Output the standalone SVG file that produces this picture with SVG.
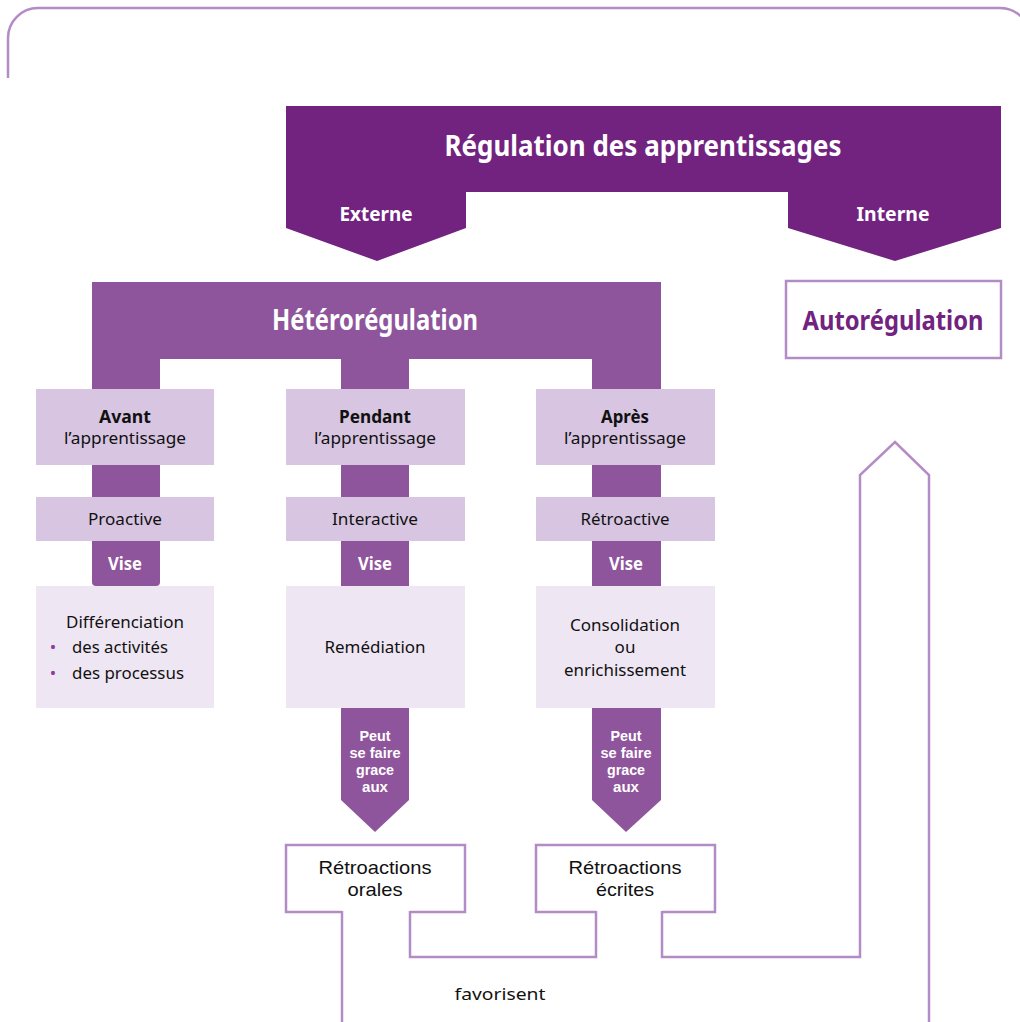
<svg xmlns="http://www.w3.org/2000/svg" width="1020" height="1022" viewBox="0 0 1020 1022">
<style>
text{font-family:"Noto Sans","DejaVu Sans",sans-serif;text-anchor:middle}
.dark{fill:#71237f}
.mid{fill:#8f559c}
.lt{fill:#d7c5e2}
.xlt{fill:#efe6f3}
.ol{fill:none;stroke:#b48cc5;stroke-width:2.5}
.olw{fill:#fff;stroke:#b48cc5;stroke-width:2.5}
.wb{fill:#fff;font-weight:700}
.b{fill:#111;font-weight:700;font-size:17px}
.r{fill:#111;font-size:17px}
.r19{fill:#111;font-size:19px;font-family:"Liberation Sans","Noto Sans",sans-serif}
.pk{fill:#fff;font-weight:700;font-size:15px;font-family:"Liberation Sans","Noto Sans",sans-serif}
</style>
<g id="frame"><path class="ol" d="M8,78 V38 A30,30 0 0 1 38,8 H1000 A30,30 0 0 1 1030,38" stroke-width="3"/></g>

<g id="regulation">
<path class="dark" d="M286,106 H1001 V228 L895,261 L788,228 V192 H466 V228 L377,261 L286,228 Z"/>
<text class="wb" x="643" y="156" font-size="28" textLength="397" lengthAdjust="spacingAndGlyphs">Régulation des apprentissages</text>
<text class="wb" x="376" y="221" font-size="19" textLength="73" lengthAdjust="spacingAndGlyphs">Externe</text>
<text class="wb" x="893" y="221" font-size="19" textLength="73" lengthAdjust="spacingAndGlyphs">Interne</text>
</g>

<g id="autoregulation">
<rect class="olw" x="786" y="281" width="215" height="77"/>
<text x="893" y="330" font-size="26" font-weight="700" fill="#71237f" textLength="181" lengthAdjust="spacingAndGlyphs">Autorégulation</text>
</g>

<g id="heteroregulation">
<rect class="mid" x="92" y="282" width="569" height="77"/>
<path class="mid" d="M92,358 H160 V582 Q160,586 156,586 H96 Q92,586 92,582 Z"/>
<path class="mid" d="M341,358 H409 V800 L375,832 L341,800 Z"/>
<path class="mid" d="M592,358 H661 V800 L626,832 L592,800 Z"/>
<text class="wb" x="375" y="330" font-size="28" textLength="206" lengthAdjust="spacingAndGlyphs">Hétérorégulation</text>
</g>

<g id="avant">
<rect class="lt" x="36" y="389" width="178" height="76"/>
<text class="b" x="125" y="423" textLength="52" lengthAdjust="spacingAndGlyphs">Avant</text>
<text class="r" x="125" y="444" textLength="122" lengthAdjust="spacingAndGlyphs">l’apprentissage</text>
</g>
<g id="pendant">
<rect class="lt" x="286" y="389" width="179" height="76"/>
<text class="b" x="375" y="423" textLength="72" lengthAdjust="spacingAndGlyphs">Pendant</text>
<text class="r" x="375" y="444" textLength="122" lengthAdjust="spacingAndGlyphs">l’apprentissage</text>
</g>
<g id="apres">
<rect class="lt" x="536" y="389" width="179" height="76"/>
<text class="b" x="625" y="423" textLength="48" lengthAdjust="spacingAndGlyphs">Après</text>
<text class="r" x="625" y="444" textLength="122" lengthAdjust="spacingAndGlyphs">l’apprentissage</text>
</g>

<g id="proactive">
<rect class="lt" x="36" y="497" width="178" height="44"/>
<text class="r" x="125" y="525" textLength="74" lengthAdjust="spacingAndGlyphs">Proactive</text>
</g>
<g id="interactive">
<rect class="lt" x="286" y="497" width="179" height="44"/>
<text class="r" x="375" y="525" textLength="86" lengthAdjust="spacingAndGlyphs">Interactive</text>
</g>
<g id="retroactive">
<rect class="lt" x="536" y="497" width="179" height="44"/>
<text class="r" x="625" y="525" textLength="89" lengthAdjust="spacingAndGlyphs">Rétroactive</text>
</g>

<g id="vise-labels">
<text class="wb" x="125" y="570" font-size="17" textLength="34" lengthAdjust="spacingAndGlyphs">Vise</text>
<text class="wb" x="375" y="570" font-size="17" textLength="34" lengthAdjust="spacingAndGlyphs">Vise</text>
<text class="wb" x="626" y="570" font-size="17" textLength="34" lengthAdjust="spacingAndGlyphs">Vise</text>
</g>

<g id="differenciation">
<rect class="xlt" x="36" y="586" width="178" height="122"/>
<text class="r" x="125" y="628" textLength="118" lengthAdjust="spacingAndGlyphs">Différenciation</text>
<text x="53" y="653" font-size="17" fill="#8f3a9c">•</text>
<text class="r" x="72" y="653" style="text-anchor:start" textLength="96" lengthAdjust="spacingAndGlyphs">des activités</text>
<text x="53" y="679" font-size="17" fill="#8f3a9c">•</text>
<text class="r" x="72" y="679" style="text-anchor:start" textLength="112" lengthAdjust="spacingAndGlyphs">des processus</text>
</g>
<g id="remediation">
<rect class="xlt" x="286" y="586" width="179" height="122"/>
<text class="r" x="375" y="653" textLength="101" lengthAdjust="spacingAndGlyphs">Remédiation</text>
</g>
<g id="consolidation">
<rect class="xlt" x="536" y="586" width="179" height="122"/>
<text class="r" x="625" y="631" textLength="110" lengthAdjust="spacingAndGlyphs">Consolidation</text>
<text class="r" x="625" y="653">ou</text>
<text class="r" x="625" y="676" textLength="122" lengthAdjust="spacingAndGlyphs">enrichissement</text>
</g>

<g id="peut-labels">
<text class="pk" x="375" y="741" textLength="31" lengthAdjust="spacingAndGlyphs">Peut</text>
<text class="pk" x="375" y="758" textLength="51" lengthAdjust="spacingAndGlyphs">se faire</text>
<text class="pk" x="375" y="775" textLength="38" lengthAdjust="spacingAndGlyphs">grace</text>
<text class="pk" x="375" y="792" textLength="26" lengthAdjust="spacingAndGlyphs">aux</text>
<text class="pk" x="626" y="741" textLength="31" lengthAdjust="spacingAndGlyphs">Peut</text>
<text class="pk" x="626" y="758" textLength="51" lengthAdjust="spacingAndGlyphs">se faire</text>
<text class="pk" x="626" y="775" textLength="38" lengthAdjust="spacingAndGlyphs">grace</text>
<text class="pk" x="626" y="792" textLength="26" lengthAdjust="spacingAndGlyphs">aux</text>
</g>

<g id="retro-orales">
<path class="olw" d="M342,912 H286 V845 H465 V912 H410"/>
<text class="r19" x="375" y="874" textLength="113" lengthAdjust="spacingAndGlyphs">Rétroactions</text>
<text class="r19" x="375" y="896" textLength="55" lengthAdjust="spacingAndGlyphs">orales</text>
</g>
<g id="retro-ecrites">
<path class="olw" d="M596,912 H536 V845 H715 V912 H662"/>
<text class="r19" x="625" y="874" textLength="113" lengthAdjust="spacingAndGlyphs">Rétroactions</text>
<text class="r19" x="625" y="896" textLength="58" lengthAdjust="spacingAndGlyphs">écrites</text>
</g>

<g id="connectors">
<path class="ol" d="M342,911 V1024"/>
<path class="ol" d="M410,911 V957 H596 V911"/>
<path class="ol" d="M662,911 V957 H860 V475 L895,442 L929,475 V1024"/>
<text class="r" x="500" y="1000" textLength="91" lengthAdjust="spacingAndGlyphs">favorisent</text>
</g>
</svg>
